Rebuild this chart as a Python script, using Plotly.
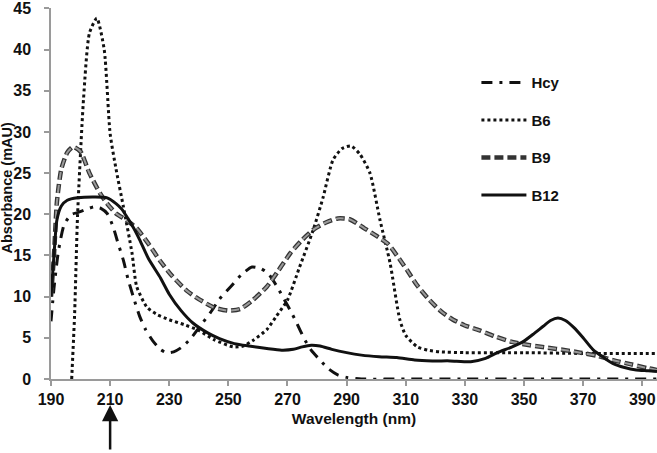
import plotly.graph_objects as go

# ---- data ----
hcy_x = [190, 191, 192.5, 194.5, 197, 199, 202, 204.5, 207, 209, 211, 212.5, 214.5, 216, 218, 220,
         222, 224.5, 227, 229, 231.5, 234, 237, 240, 244, 247, 251, 254.5, 258, 261, 263.5, 266.5,
         269, 271, 273, 275.5, 278, 281, 284, 287, 290, 295, 310, 330, 350, 370, 395]
hcy_y = [7, 11, 15.5, 18.8, 20, 20.2, 20.6, 20.9, 20.7, 20.1, 18.5, 16.7, 14.4, 12.2, 9.8, 7.6,
         6.0, 4.6, 3.6, 3.2, 3.3, 3.8, 4.8, 6.2, 8.1, 9.7, 11.3, 12.7, 13.6, 13.4, 12.8, 11.2,
         9.6, 8.3, 6.9, 5.0, 3.5, 2.3, 1.2, 0.5, 0.2, 0, 0, 0, 0, 0, 0]

b6_x = [197, 198, 199, 201, 203, 205.5, 208, 210, 212, 214.5, 217.4, 219, 222.5, 226, 230, 235,
        240, 245, 251.6, 255, 258.4, 263, 266, 270, 274, 278.7, 282, 285.4, 288.5, 291.5, 294.5,
        297.9, 301.3, 304.7, 308, 310, 313.9, 317.5, 321.6, 330, 350, 370, 395]
b6_y = [0, 8, 20, 34, 42, 43.8, 40, 29.8, 25.5, 20.9, 15.3, 11.2, 8.7, 7.8, 7.2, 6.6,
        5.9, 4.8, 3.9, 4.0, 4.7, 6.0, 7.5, 9.6, 13.5, 18.1, 22, 26.6, 28, 28.3, 27.3,
        25, 19.3, 14.1, 7.2, 5.3, 3.9, 3.5, 3.3, 3.2, 3.2, 3.1, 3.1]

b9_x = [190, 191, 192, 193.5, 195.5, 197.5, 200, 203, 206.5, 209, 212, 215.5, 219, 223, 227, 231,
        236, 240, 245, 250, 254, 258, 263, 267, 271, 275, 279, 283, 287, 291, 296, 300, 304, 307,
        310.5, 314, 318, 322, 326, 330, 335, 340, 346, 352, 358, 364, 369, 375, 380, 386, 392, 395]
b9_y = [10, 15, 21.5, 25.5, 27.5, 28.2, 27.6, 25, 22.6, 21.3, 20.1, 19.3, 18.3, 16.4, 14.3, 12.5,
        10.7, 9.7, 8.7, 8.3, 8.5, 9.5, 11.2, 13.2, 15.3, 16.9, 18.2, 19.0, 19.5, 19.4, 18.3, 17.4, 16.4, 15,
        13.2, 11.3, 9.6, 8.2, 7.2, 6.5, 5.9, 5.2, 4.5, 4.1, 3.8, 3.5, 3.2, 2.8, 2.3, 1.8, 1.3, 1.1]

b12_x = [190, 191, 192, 193.5, 195.5, 199, 205, 209, 212, 214, 216, 218, 220, 223, 227, 230, 234,
         238, 243, 247, 252, 257, 263, 268, 272, 275, 278, 281, 285, 290, 295, 301, 307, 313, 319,
         325, 332, 337, 341, 346, 350, 353, 356.5, 359, 361.5, 364, 367, 370, 373.5, 377, 380, 384,
         388, 392, 395]
b12_y = [10, 15, 19.3, 21, 21.7, 22, 22.1, 22, 21.3, 20.6, 19.5, 18.3, 16.9, 14.6, 12.3, 10.3, 8.3,
         6.8, 5.6, 4.9, 4.3, 4.0, 3.7, 3.5, 3.6, 3.9, 4.1, 4.0, 3.6, 3.2, 2.9, 2.7, 2.6, 2.3, 2.2,
         2.2, 2.1, 2.5, 3.2, 3.9, 4.6, 5.4, 6.4, 7.1, 7.4, 7.1, 6.2, 5.0, 3.5, 2.6, 1.9, 1.4,
         1.1, 1.0, 0.9]

x_ticks = [190, 210, 230, 250, 270, 290, 310, 330, 350, 370, 390]
y_ticks = [0, 5, 10, 15, 20, 25, 30, 35, 40, 45]

FONT = "Liberation Sans, Arial, sans-serif"
INK = "#111111"
AXIS = "#9a9a9a"

fig = go.Figure()
fig.add_trace(go.Scatter(x=hcy_x, y=hcy_y, name="Hcy", mode="lines", legendgroup="a",
                         line=dict(color=INK, width=3, dash="11px,7px,3px,7px",
                                   shape="spline", smoothing=0.6)))
fig.add_trace(go.Scatter(x=b6_x, y=b6_y, name="B6", mode="lines", legendgroup="b",
                         line=dict(color=INK, width=3, dash="3px,3px",
                                   shape="spline", smoothing=0.6)))
fig.add_trace(go.Scatter(x=b9_x, y=b9_y, name="B9", mode="lines", legendgroup="c",
                         line=dict(color="#333333", width=4.5, dash="9px,4px",
                                   shape="spline", smoothing=0.6)))
fig.add_trace(go.Scatter(x=b9_x, y=b9_y, name="B9", mode="lines", legendgroup="c",
                         showlegend=False,
                         line=dict(color="#9a9a9a", width=2, dash="8px,5px",
                                   shape="spline", smoothing=0.6)))
fig.add_trace(go.Scatter(x=b12_x, y=b12_y, name="B12", mode="lines", legendgroup="d",
                         line=dict(color=INK, width=3, shape="spline", smoothing=0.6)))

fig.update_layout(
    width=657, height=453,
    margin=dict(l=51, r=0, t=8, b=74),
    plot_bgcolor="white", paper_bgcolor="white",
    font=dict(family=FONT, size=15, color=INK),
    showlegend=True,
    legend=dict(x=0.702, y=0.843, xanchor="left", yanchor="top",
                font=dict(family=FONT, size=15, color=INK, weight="bold"),
                tracegroupgap=15, traceorder="grouped",
                bgcolor="rgba(0,0,0,0)", itemwidth=45),
    xaxis=dict(range=[190, 395], tickvals=x_ticks, showgrid=False, zeroline=False,
               automargin=False,
               showline=True, linecolor=AXIS, linewidth=1.5,
               ticks="outside", ticklen=5, tickcolor=AXIS, tickwidth=1.5,
               tickfont=dict(family=FONT, size=16, color=INK, weight="bold"),
               title=dict(text="Wavelength (nm)", standoff=6,
                          font=dict(family=FONT, size=15.5, color=INK, weight="bold"))),
    yaxis=dict(range=[0, 45.05], tickvals=y_ticks, showgrid=False, zeroline=False,
               automargin=False,
               showline=True, linecolor=AXIS, linewidth=1.5,
               ticks="outside", ticklen=5, tickcolor=AXIS, tickwidth=1.5,
               ticklabelstandoff=10,
               tickfont=dict(family=FONT, size=16, color=INK, weight="bold")),
)

# y-axis title placed at the far left, like the reference
fig.add_annotation(text="Absorbance (mAU)", textangle=-90, showarrow=False,
                   xref="paper", x=0, xanchor="center", xshift=-45,
                   yref="paper", y=0.5, yanchor="middle", yshift=5,
                   font=dict(family=FONT, size=14.5, color=INK, weight="bold"))

# arrow under 210 nm
fig.add_annotation(x=210, xref="x", y=-0.07, yref="paper", text="", showarrow=True,
                   ax=0, ay=46, axref="pixel", ayref="pixel",
                   arrowhead=2, arrowsize=1.3, arrowwidth=2.5, arrowcolor=INK)

fig.write_html("out.html", config={"displayModeBar": False},
               post_script="document.body.style.margin='0';document.body.style.overflow='hidden';")
